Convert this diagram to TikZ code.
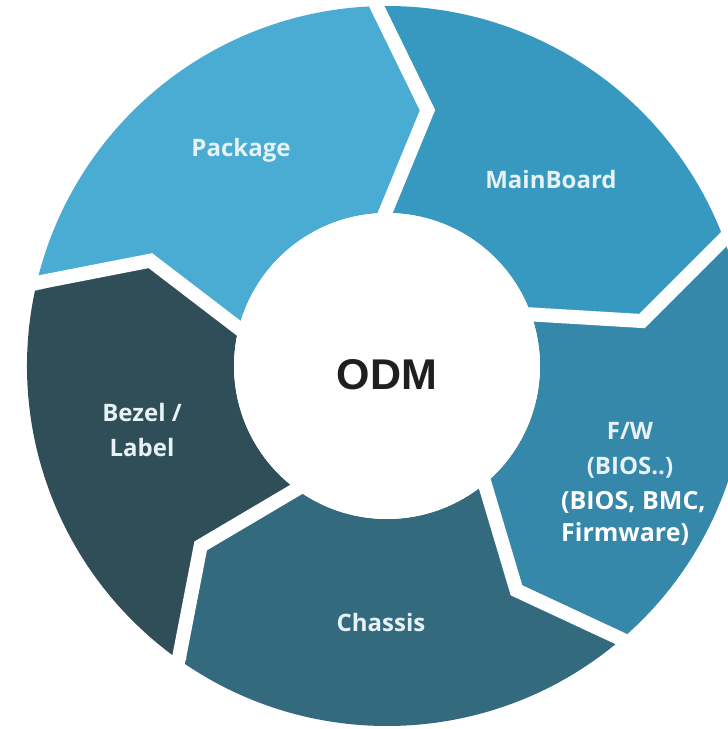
\documentclass[tikz,border=0pt]{standalone}
\usepackage{fontspec}
\usepackage{tikz}
\newfontfamily\labelfont{Open Sans}
\newfontfamily\odmfont{Liberation Sans}

\definecolor{pkgblue}{HTML}{4AABD3}
\definecolor{mbblue}{HTML}{3899C0}
\definecolor{fwblue}{HTML}{3688AA}
\definecolor{chteal}{HTML}{336A7D}
\definecolor{bzteal}{HTML}{2F4E57}
\definecolor{labwhite}{HTML}{E6F2F6}

\begin{document}
\begin{tikzpicture}[x=1pt,y=1pt,
    seglabel/.style={text=labwhite,align=center,font=\labelfont\bfseries\fontsize{24}{35}\selectfont},
    gap/.style={white,line width=14pt,line join=miter}]
  \useasboundingbox (-387,-363) rectangle (341,366);

  % ring of chevron segments, clockwise
  \foreach \a/\b/\col in {168/93/pkgblue, 93/22/mbblue, 22/-48/fwblue, -48/-124/chteal, -124/-192/bzteal}
  {
    \fill[\col] (\a:360) arc[start angle=\a, end angle=\b, radius=360]
      -- ({\b-12}:259) -- (\b:153) arc[start angle=\b, end angle=\a, radius=153]
      -- ({\a-12}:259) -- cycle;
  }
  \foreach \a in {168,93,22,-48,-124}
    \draw[gap] (\a:380) -- ({\a-12}:259) -- (\a:140);

  \node[circle,fill=white,minimum size=306pt,inner sep=0pt] (odm) at (0,0) {};
  \node[font=\odmfont\bfseries\fontsize{43}{43}\selectfont,text=black!88] (odmtext) at (0,-9) {ODM};

  \node[seglabel] (package) at (-146,216) {Package};
  \node[seglabel] (mainboard) at (164,187) {MainBoard};
  \node[seglabel] (fw) at (243,-84) {F/W\\(BIOS..)};
  \node[seglabel] (chassis) at (-6,-256) {Chassis};
  \node[seglabel] (bezel) at (-245,-64) {Bezel /\\Label};
  \node[anchor=west,align=left,text=white,inner sep=0pt,
        font=\labelfont\bfseries\fontsize{25}{32}\selectfont] (fwnote) at (174,-152) {(BIOS, BMC,\\Firmware)};
\end{tikzpicture}
\end{document}
